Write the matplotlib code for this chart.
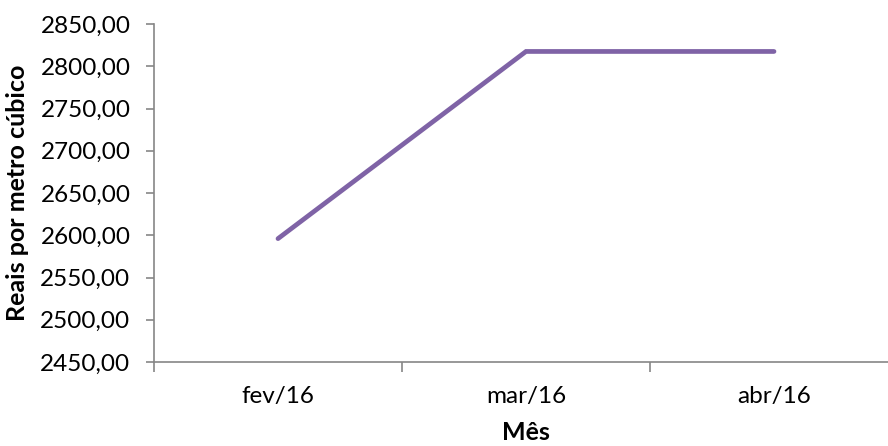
import matplotlib
matplotlib.use('Agg')
import matplotlib.pyplot as plt
from matplotlib.ticker import FuncFormatter, FixedLocator

meses = ['fev/16', 'mar/16', 'abr/16']
precos = [2596.0, 2817.5, 2817.5]   # reais por m³
y_ticks = [2450, 2500, 2550, 2600, 2650, 2700, 2750, 2800, 2850]

plt.rcParams['font.family'] = ['Lato', 'DejaVu Sans']
cinza = '#868686'
fs = 17.5

fig = plt.figure(figsize=(8.88, 4.46), dpi=100)
ax = fig.add_axes([154/888, (446-362)/446, 744/888, 338/446])

x = list(range(len(meses)))
ax.plot(x, precos, color='#7F63A6', lw=3.4, solid_capstyle='round', solid_joinstyle='miter')

ax.set_xlim(-0.5, len(meses)-0.5)
ax.set_ylim(y_ticks[0], y_ticks[-1])
ax.set_yticks(y_ticks)
ax.yaxis.set_major_formatter(FuncFormatter(lambda v, p: f'{v:.2f}'.replace('.', ',')))

# ticks entre categorias, rótulos no centro
ax.xaxis.set_major_locator(FixedLocator([i-0.5 for i in range(len(meses)+1)]))
ax.xaxis.set_major_formatter(FuncFormatter(lambda v, p: ''))
ax.set_xticks(x, minor=True)
ax.set_xticklabels(meses, minor=True)
ax.tick_params(axis='x', which='minor', length=0, pad=17, labelsize=fs)
ax.tick_params(axis='x', which='major', length=7, width=1.2, color=cinza, direction='out')
ax.tick_params(axis='y', length=6, width=1.2, color=cinza, direction='out', labelsize=fs, pad=11)

for s in ['top', 'right']:
    ax.spines[s].set_visible(False)
for s in ['left', 'bottom']:
    ax.spines[s].set_color(cinza)
    ax.spines[s].set_linewidth(1.2)

ax.set_ylabel('Reais por metro cúbico', fontsize=18, fontweight='bold', va='center')
ax.yaxis.set_label_coords(-(154-18)/744, 0.5)
ax.set_xlabel('Mês', fontsize=18, fontweight='bold', va='center')
ax.xaxis.set_label_coords((526-154)/744, -(433-362)/338)

fig.savefig('out.png', dpi=100)
